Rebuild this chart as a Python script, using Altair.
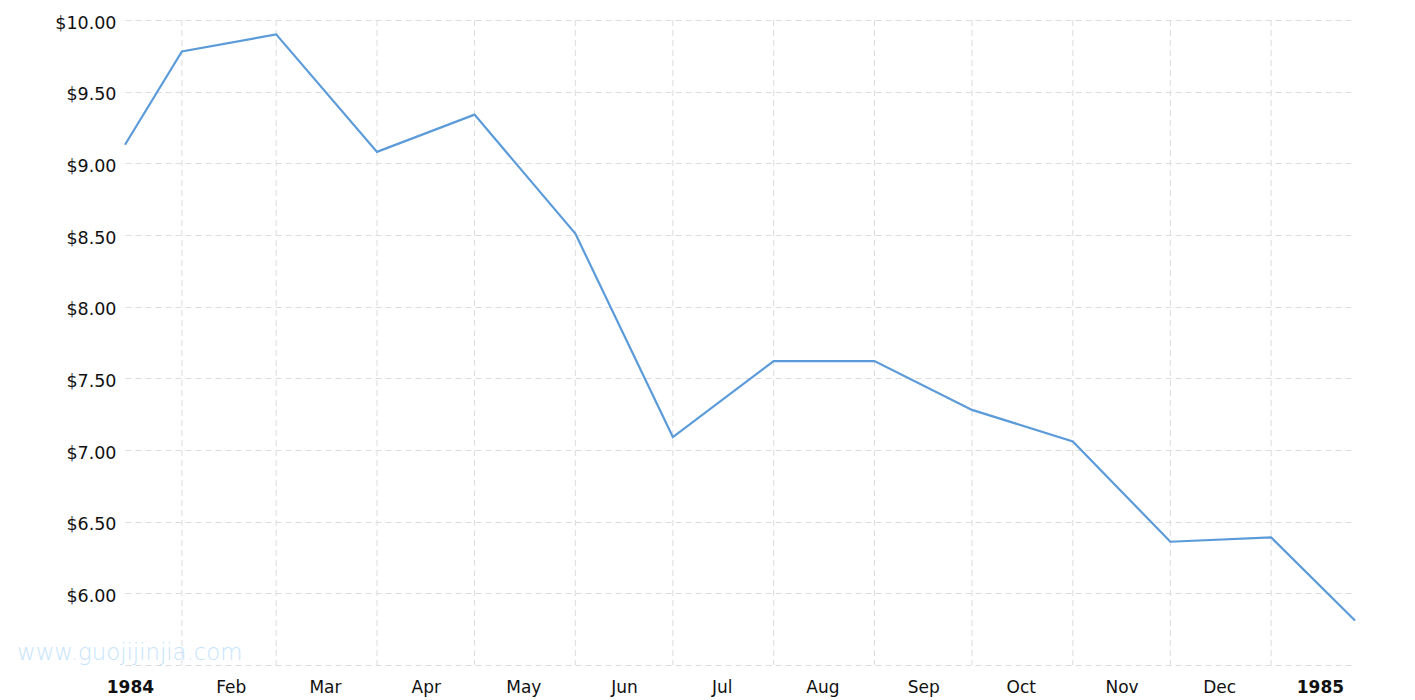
import altair as alt
import pandas as pd

# Silver price, month-end values (first/last rows are at the plot edges)
dates = ["1984-01-13T12:00:00Z", "1984-01-31T00:00:00Z", "1984-02-29T00:00:00Z", "1984-03-31T00:00:00Z",
         "1984-04-30T00:00:00Z", "1984-05-31T00:00:00Z", "1984-06-30T00:00:00Z", "1984-07-31T00:00:00Z",
         "1984-08-31T00:00:00Z", "1984-09-30T00:00:00Z", "1984-10-31T00:00:00Z", "1984-11-30T00:00:00Z",
         "1984-12-31T00:00:00Z", "1985-01-25T19:00:00Z"]
prices = [9.13, 9.78, 9.90, 9.08, 9.34, 8.51, 7.09, 7.62, 7.62, 7.28, 7.06, 6.36, 6.39, 5.81]
gridline_dates = dates[1:-1]
label_dates = ["1984-01-15T00:00:00Z", "1984-02-15T00:00:00Z", "1984-03-15T00:00:00Z",
               "1984-04-15T00:00:00Z", "1984-05-15T00:00:00Z", "1984-06-15T00:00:00Z",
               "1984-07-15T00:00:00Z", "1984-08-15T00:00:00Z", "1984-09-15T00:00:00Z",
               "1984-10-15T00:00:00Z", "1984-11-15T00:00:00Z", "1984-12-15T00:00:00Z",
               "1985-01-15T00:00:00Z"]
y_ticks = [5.5, 6.0, 6.5, 7.0, 7.5, 8.0, 8.5, 9.0, 9.5, 10.0]
watermark = ["www.guojijinjia.com"]

df = pd.DataFrame({"date": pd.to_datetime(dates, utc=True, format="ISO8601"), "price": prices})
grid_df = pd.DataFrame({"date": pd.to_datetime(gridline_dates, utc=True, format="ISO8601")})
wm_df = pd.DataFrame({"t": watermark})


def dt(s):
    t = pd.Timestamp(s)
    return alt.DateTime(year=t.year, month=t.month, date=t.day, hours=t.hour, utc=True)


x_scale = alt.Scale(type="utc", domain=[dt(dates[0]), dt(dates[-1])])
font = "DejaVu Sans"

x_axis = alt.Axis(
    values=[dt(d) for d in label_dates],
    grid=False, ticks=False, tickSize=0, domain=False,
    labelExpr="utcmonth(datum.value) == 0 ? utcFormat(datum.value, '%Y') : utcFormat(datum.value, '%b')",
    labelFontWeight=alt.ConditionalAxisLabelFontWeight(
        condition={"test": "utcmonth(datum.value) == 0", "value": "bold"}, value="normal"),
    labelFont=font, labelFontSize=17, labelColor="#111111",
    labelPadding=14, labelFlush=False, labelOverlap=False, labelBound=False,
    title=None,
)

y_axis = alt.Axis(
    values=y_ticks,
    grid=True, gridColor="#dcdcdc", gridDash=[6, 4], gridWidth=1,
    ticks=False, tickSize=0, domain=False,
    labelExpr="datum.value < 5.75 ? '' : '$' + format(datum.value, '.2f')",
    labelFont=font, labelFontSize=17.5, labelColor="#111111",
    labelPadding=9, labelOffset=3, title=None,
)

grid = alt.Chart(grid_df).mark_rule(color="#dcdcdc", strokeDash=[6, 4], strokeWidth=1).encode(
    x=alt.X("date:T", scale=x_scale, axis=x_axis)
)

line = alt.Chart(df).mark_line(color="#5b9bd9", strokeWidth=2.2).encode(
    x=alt.X("date:T", scale=x_scale, axis=x_axis),
    y=alt.Y("price:Q", scale=alt.Scale(domain=[5.5, 10.0], nice=False, zero=False), axis=y_axis),
)

wm = alt.Chart(wm_df).mark_text(
    align="left", baseline="alphabetic", font=font, fontSize=22.8, color="#c6e4fb", fontWeight=300
).encode(
    x=alt.value(-108), y=alt.value(640), text="t:N"
)

chart = alt.layer(grid, wm, line).properties(
    width=1230, height=645,
    background="white",
    padding={"left": 117, "top": 12, "right": 40, "bottom": 35},
    autosize=alt.AutoSizeParams(type="none"),
).configure_view(strokeWidth=0, stroke="transparent")

chart.save("out.html", embed_options={"renderer": "svg", "actions": False})
